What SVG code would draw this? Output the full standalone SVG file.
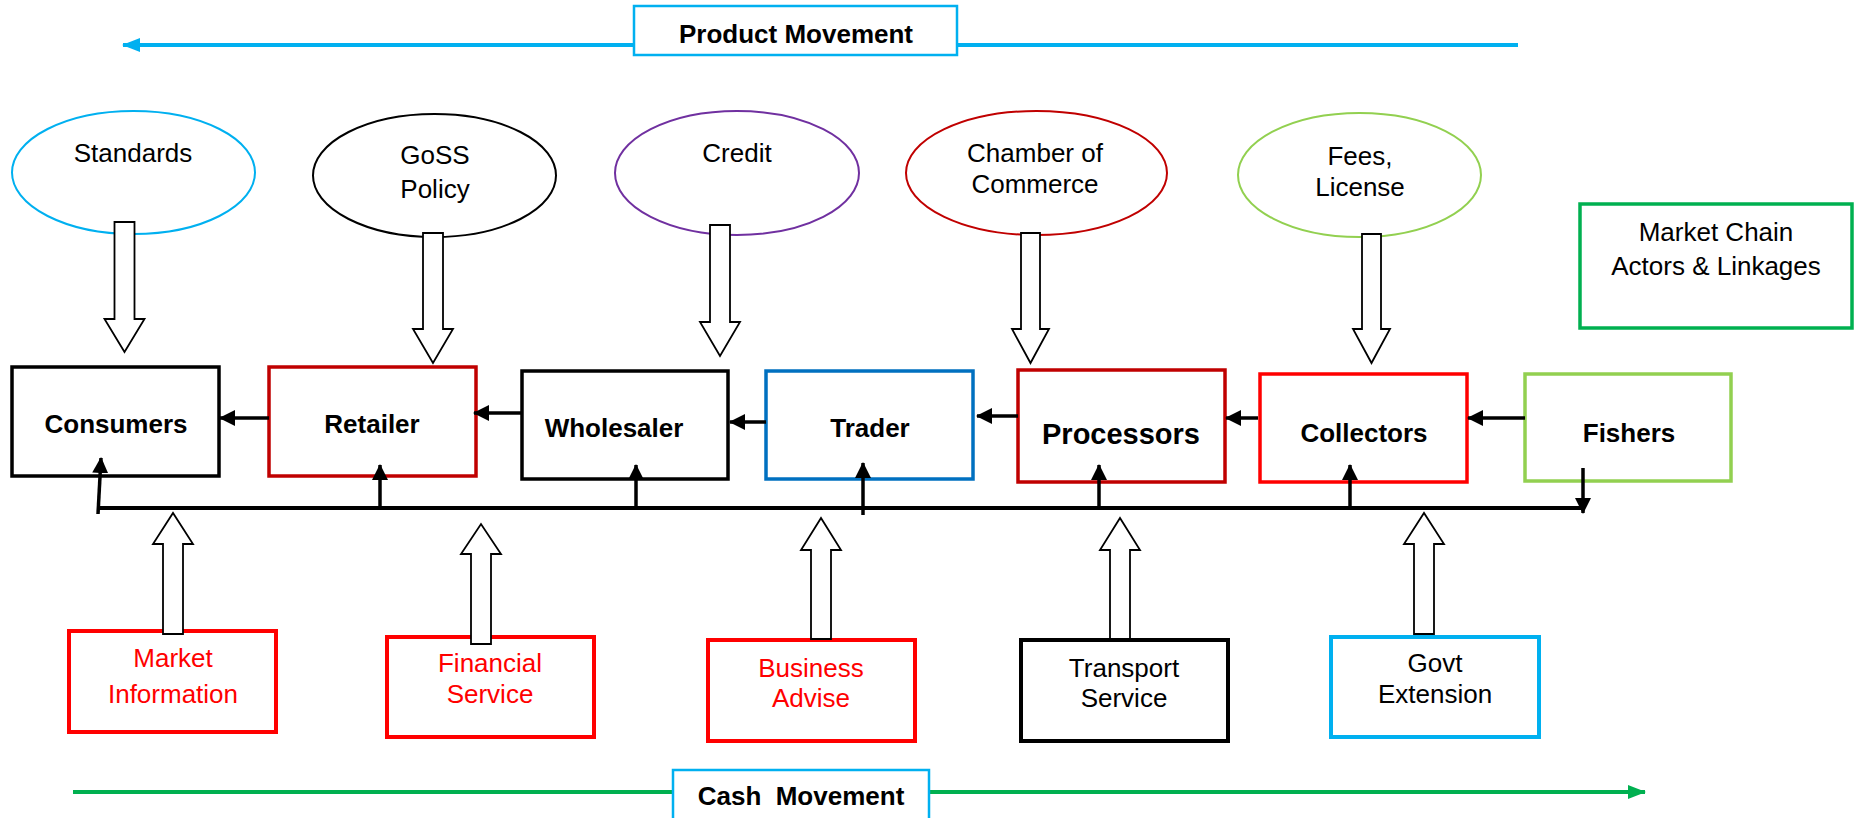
<svg xmlns="http://www.w3.org/2000/svg" width="1857" height="818" viewBox="0 0 1857 818">
  <style>
    .lbl { font-family: "Liberation Sans", Arial, sans-serif; font-size: 26px; fill: #000; text-anchor: middle; }
    .bold { font-weight: bold; }
    .red { fill: #FF0000; }
    .oval { fill: #fff; stroke-width: 2; }
    .actor { fill: #fff; stroke-width: 3.5; }
    .svc { fill: #fff; stroke-width: 4; }
    .block { fill: #fff; stroke: #000; stroke-width: 1.8; stroke-linejoin: miter; }
    .link { stroke: #000; stroke-width: 3.5; fill: none; }
    .bus { stroke: #000; stroke-width: 4; fill: none; }
    .flow { fill: #fff; stroke: #00B0F0; stroke-width: 2.5; }
  </style>
  <defs>
    <marker id="head" markerUnits="userSpaceOnUse" markerWidth="16" markerHeight="16" viewBox="0 0 16 16" refX="15" refY="8" orient="auto">
      <path d="M0,0 L16,8 L0,16 z" fill="#000"/>
    </marker>
    <marker id="headBlue" markerUnits="userSpaceOnUse" markerWidth="18" markerHeight="16" viewBox="0 0 18 16" refX="17" refY="8" orient="auto">
      <path d="M0,1 L18,8 L0,15 z" fill="#00B0F0"/>
    </marker>
    <marker id="headGreen" markerUnits="userSpaceOnUse" markerWidth="18" markerHeight="16" viewBox="0 0 18 16" refX="17" refY="8" orient="auto">
      <path d="M0,1 L18,8 L0,15 z" fill="#00B050"/>
    </marker>
  </defs>
  <rect width="1857" height="818" fill="#fff"/>

  <!-- flow direction bars -->
  <g id="product-movement">
    <line x1="1518" y1="45" x2="123" y2="45" stroke="#00B0F0" stroke-width="4" marker-end="url(#headBlue)"/>
    <rect class="flow" x="634" y="6" width="323" height="49"/>
    <text class="lbl bold" x="796" y="43">Product Movement</text>
  </g>
  <g id="cash-movement">
    <line x1="73" y1="792" x2="1645" y2="792" stroke="#00B050" stroke-width="4" marker-end="url(#headGreen)"/>
    <rect class="flow" x="673" y="770" width="256" height="52"/>
    <text class="lbl bold" x="801" y="805" xml:space="preserve">Cash  Movement</text>
  </g>

  <!-- influencing bodies -->
  <g id="standards">
    <ellipse class="oval" cx="133.5" cy="172.5" rx="121.5" ry="61.5" stroke="#00B0F0"/>
    <text class="lbl" x="133" y="162">Standards</text>
  </g>
  <g id="goss-policy">
    <ellipse class="oval" cx="434.5" cy="175.5" rx="121.5" ry="61.5" stroke="#000"/>
    <text class="lbl" x="435" y="164">GoSS</text>
    <text class="lbl" x="435" y="198">Policy</text>
  </g>
  <g id="credit">
    <ellipse class="oval" cx="737" cy="173" rx="122" ry="62" stroke="#7030A0"/>
    <text class="lbl" x="737" y="162">Credit</text>
  </g>
  <g id="chamber">
    <ellipse class="oval" cx="1036.5" cy="173" rx="130.5" ry="62" stroke="#C00000"/>
    <text class="lbl" x="1035" y="162">Chamber of</text>
    <text class="lbl" x="1035" y="193">Commerce</text>
  </g>
  <g id="fees">
    <ellipse class="oval" cx="1359.5" cy="175" rx="121.5" ry="62" stroke="#92D050"/>
    <text class="lbl" x="1360" y="165">Fees,</text>
    <text class="lbl" x="1360" y="196">License</text>
  </g>

  <!-- legend -->
  <g id="legend">
    <rect x="1580" y="204" width="272" height="124" fill="#fff" stroke="#00B050" stroke-width="3.5"/>
    <text class="lbl" x="1716" y="241">Market Chain</text>
    <text class="lbl" x="1716" y="275">Actors &amp; Linkages</text>
  </g>

  <!-- chain actors -->
  <g id="consumers">
    <rect class="actor" x="12" y="367" width="207" height="109" stroke="#000"/>
    <text class="lbl bold" x="116" y="433">Consumers</text>
  </g>
  <g id="retailer">
    <rect class="actor" x="269" y="367" width="207" height="109" stroke="#C00000"/>
    <text class="lbl bold" x="372" y="433">Retailer</text>
  </g>
  <g id="wholesaler">
    <rect class="actor" x="522" y="371" width="206" height="108" stroke="#000"/>
    <text class="lbl bold" x="614" y="437">Wholesaler</text>
  </g>
  <g id="trader">
    <rect class="actor" x="766" y="371" width="207" height="108" stroke="#0070C0"/>
    <text class="lbl bold" x="870" y="437">Trader</text>
  </g>
  <g id="processors">
    <rect class="actor" x="1018" y="370" width="207" height="112" stroke="#C00000"/>
    <text class="lbl bold" x="1121" y="444" style="font-size:29px">Processors</text>
  </g>
  <g id="collectors">
    <rect class="actor" x="1260" y="374" width="207" height="108" stroke="#FF0000"/>
    <text class="lbl bold" x="1364" y="442">Collectors</text>
  </g>
  <g id="fishers">
    <rect class="actor" x="1525" y="374" width="206" height="107" stroke="#92D050"/>
    <text class="lbl bold" x="1629" y="442">Fishers</text>
  </g>

  <!-- support services -->
  <g id="market-information">
    <rect class="svc" x="69" y="631" width="207" height="101" stroke="#FF0000"/>
    <text class="lbl red" x="173" y="667">Market</text>
    <text class="lbl red" x="173" y="703">Information</text>
  </g>
  <g id="financial-service">
    <rect class="svc" x="387" y="637" width="207" height="100" stroke="#FF0000"/>
    <text class="lbl red" x="490" y="672">Financial</text>
    <text class="lbl red" x="490" y="703">Service</text>
  </g>
  <g id="business-advise">
    <rect class="svc" x="708" y="640" width="207" height="101" stroke="#FF0000"/>
    <text class="lbl red" x="811" y="677">Business</text>
    <text class="lbl red" x="811" y="707">Advise</text>
  </g>
  <g id="transport-service">
    <rect class="svc" x="1021" y="640" width="207" height="101" stroke="#000"/>
    <text class="lbl" x="1124" y="677">Transport</text>
    <text class="lbl" x="1124" y="707">Service</text>
  </g>
  <g id="govt-extension">
    <rect class="svc" x="1331" y="637" width="208" height="100" stroke="#00B0F0"/>
    <text class="lbl" x="1435" y="672">Govt</text>
    <text class="lbl" x="1435" y="703">Extension</text>
  </g>

  <!-- connectors -->
  <g id="connectors">
    <!-- product links along the chain -->
    <line class="link" x1="269" y1="418" x2="220" y2="418" marker-end="url(#head)"/>
    <line class="link" x1="522" y1="413" x2="474" y2="413" marker-end="url(#head)"/>
    <line class="link" x1="766" y1="422" x2="730" y2="422" marker-end="url(#head)"/>
    <line class="link" x1="1018" y1="416" x2="977" y2="416" marker-end="url(#head)"/>
    <line class="link" x1="1258" y1="418" x2="1226" y2="418" marker-end="url(#head)"/>
    <line class="link" x1="1525" y1="418" x2="1468" y2="418" marker-end="url(#head)"/>

    <!-- cash bus -->
    <line class="bus" x1="97" y1="508" x2="1585" y2="508"/>
    <line class="link" x1="98" y1="514" x2="101" y2="458" marker-end="url(#head)"/>
    <line class="link" x1="380" y1="508" x2="380" y2="465" marker-end="url(#head)"/>
    <line class="link" x1="636" y1="508" x2="636" y2="465" marker-end="url(#head)"/>
    <line class="link" x1="863" y1="515" x2="863" y2="463" marker-end="url(#head)"/>
    <line class="link" x1="1099" y1="508" x2="1099" y2="465" marker-end="url(#head)"/>
    <line class="link" x1="1350" y1="508" x2="1350" y2="465" marker-end="url(#head)"/>
    <line class="link" x1="1583" y1="468" x2="1583" y2="513" marker-end="url(#head)"/>

    <!-- influences from above -->
    <polygon class="block" points="114.5,222 134.5,222 134.5,319 144.5,319 124.5,352 104.5,319 114.5,319"/>
    <polygon class="block" points="423,233 443,233 443,329 453,329 433,363 413,329 423,329"/>
    <polygon class="block" points="710,225 730,225 730,322 740,322 720,356 700,322 710,322"/>
    <polygon class="block" points="1021,233 1040,233 1040,329 1049,329 1030.5,363 1012,329 1021,329"/>
    <polygon class="block" points="1362,234 1381,234 1381,329 1390,329 1371.5,363 1353,329 1362,329"/>

    <!-- services from below -->
    <polygon class="block" points="163,634 183,634 183,544 193,544 173,513 153,544 163,544"/>
    <polygon class="block" points="471,644 491,644 491,554 501,554 481,524 461,554 471,554"/>
    <polygon class="block" points="811,639 831,639 831,550 841,550 821,518 801,550 811,550"/>
    <polygon class="block" points="1110,639 1130,639 1130,550 1140,550 1120,518 1100,550 1110,550"/>
    <polygon class="block" points="1414,634 1434,634 1434,544 1444,544 1424,513 1404,544 1414,544"/>
  </g>
</svg>
